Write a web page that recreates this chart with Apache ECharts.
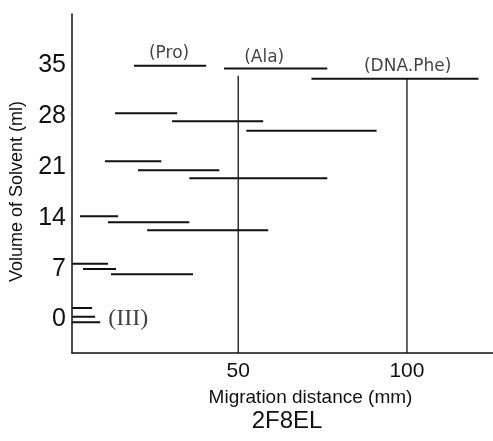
<!DOCTYPE html>
<html>
<head>
<meta charset="utf-8">
<script src="https://cdn.jsdelivr.net/npm/echarts@6/dist/echarts.min.js"></script>
<style>html,body{margin:0;padding:0;background:#fff}#c{width:493px;height:441px}</style>
</head>
<body>
<div id="c"></div>
<script>
// Segment data: migration distance range (mm) at a solvent volume (ml)
const segStart  = [19.1, 45.8, 71.7, 13.5, 30.4, 52.4, 10.5, 20.3, 35.5, 3.1, 11.4, 23.0, 0.8, 4.0, 12.3, 0.8, 0.8, 0.8];
const segEnd    = [40.5, 76.4, 121.2, 31.9, 57.4, 91.0, 27.2, 44.4, 76.4, 14.4, 35.5, 58.9, 11.4, 13.8, 36.6, 6.7, 7.6, 9.1];
const segVolume = [34.9, 34.5, 33.1, 28.35, 27.25, 25.95, 21.76, 20.52, 19.42, 14.2, 13.39, 12.29, 7.67, 6.95, 6.24, 1.57, 0.4, -0.36];
// Vertical reference lines (mm) and the volume where each starts
const refX   = [50, 100];
const refTop = [33.5, 33.1];
// Annotations
const noteText = ['(Pro)', '(Ala)', '(DNA.Phe)'];
const noteX    = [29.5, 57.7, 100.2];
const noteY    = [36.6, 36.0, 34.8];
const fractionText = ['(III)'];
const fractionX    = [17.4];
const fractionY    = [0.05];
// Tick labels
const xTicks = [50, 100];
const yTicks = [0, 7, 14, 21, 28, 35];

const X_MIN = 0.74, X_MAX = 125.5, Y_MIN = -4.6, Y_MAX = 42;
const INK = '#111';
const FONT = 'Liberation Sans';

const segData = [];
segStart.forEach((s, i) => {
  segData.push([s, segVolume[i]], [segEnd[i], segVolume[i]], '-');
});
const refData = [];
refX.forEach((x, i) => { refData.push([x, refTop[i]], [x, Y_MIN], '-'); });
const noteData = noteText.map((t, i) => ({ value: [noteX[i], noteY[i]], name: t }));
const fracData = fractionText.map((t, i) => ({ value: [fractionX[i], fractionY[i]], name: t }));

const chart = echarts.init(document.getElementById('c'), null, { renderer: 'canvas' });
chart.setOption({
  animation: false,
  backgroundColor: '#fff',
  title: {
    text: '2F8EL', left: 282, top: 404, textAlign: 'center',
    textStyle: { fontFamily: FONT, fontSize: 24, fontWeight: 'normal', color: INK }
  },
  grid: { left: 71, right: 0, top: 14, bottom: 88 },
  xAxis: {
    type: 'value', min: X_MIN, max: X_MAX,
    name: 'Migration distance (mm)', nameLocation: 'middle', nameGap: 35,
    nameTextStyle: { fontFamily: FONT, fontSize: 19, color: INK, padding: [0, 0, 0, 56] },
    axisLine: { onZero: false, lineStyle: { color: INK, width: 1.5 } },
    axisTick: { show: false },
    splitLine: { show: false },
    axisLabel: { customValues: xTicks, fontFamily: FONT, fontSize: 21, color: INK, margin: 8 }
  },
  yAxis: {
    type: 'value', min: Y_MIN, max: Y_MAX,
    name: 'Volume of Solvent (ml)', nameLocation: 'middle', nameGap: 46, nameRotate: 90,
    nameTextStyle: { fontFamily: FONT, fontSize: 18, color: INK, padding: [0, 16, 0, 0] },
    axisLine: { onZero: false, lineStyle: { color: INK, width: 1.5 } },
    axisTick: { show: false },
    splitLine: { show: false },
    axisLabel: { customValues: yTicks, fontFamily: FONT, fontSize: 25, color: INK, margin: 6 }
  },
  series: [
    {
      type: 'line', data: segData, showSymbol: false, symbol: 'none', connectNulls: false,
      lineStyle: { color: INK, width: 2 }, z: 3
    },
    {
      type: 'line', data: refData, showSymbol: false, symbol: 'none', connectNulls: false,
      lineStyle: { color: INK, width: 1.3 }, z: 2
    },
    {
      type: 'scatter', data: noteData, symbolSize: 0,
      label: {
        show: true, position: 'inside', formatter: p => p.name,
        fontFamily: 'DejaVu Sans', fontSize: 17, color: INK
      }
    },
    {
      type: 'scatter', data: fracData, symbolSize: 0,
      label: {
        show: true, position: 'inside', formatter: p => p.name,
        fontFamily: 'Liberation Serif', fontSize: 24, color: INK
      }
    }
  ]
});
</script>
</body>
</html>
